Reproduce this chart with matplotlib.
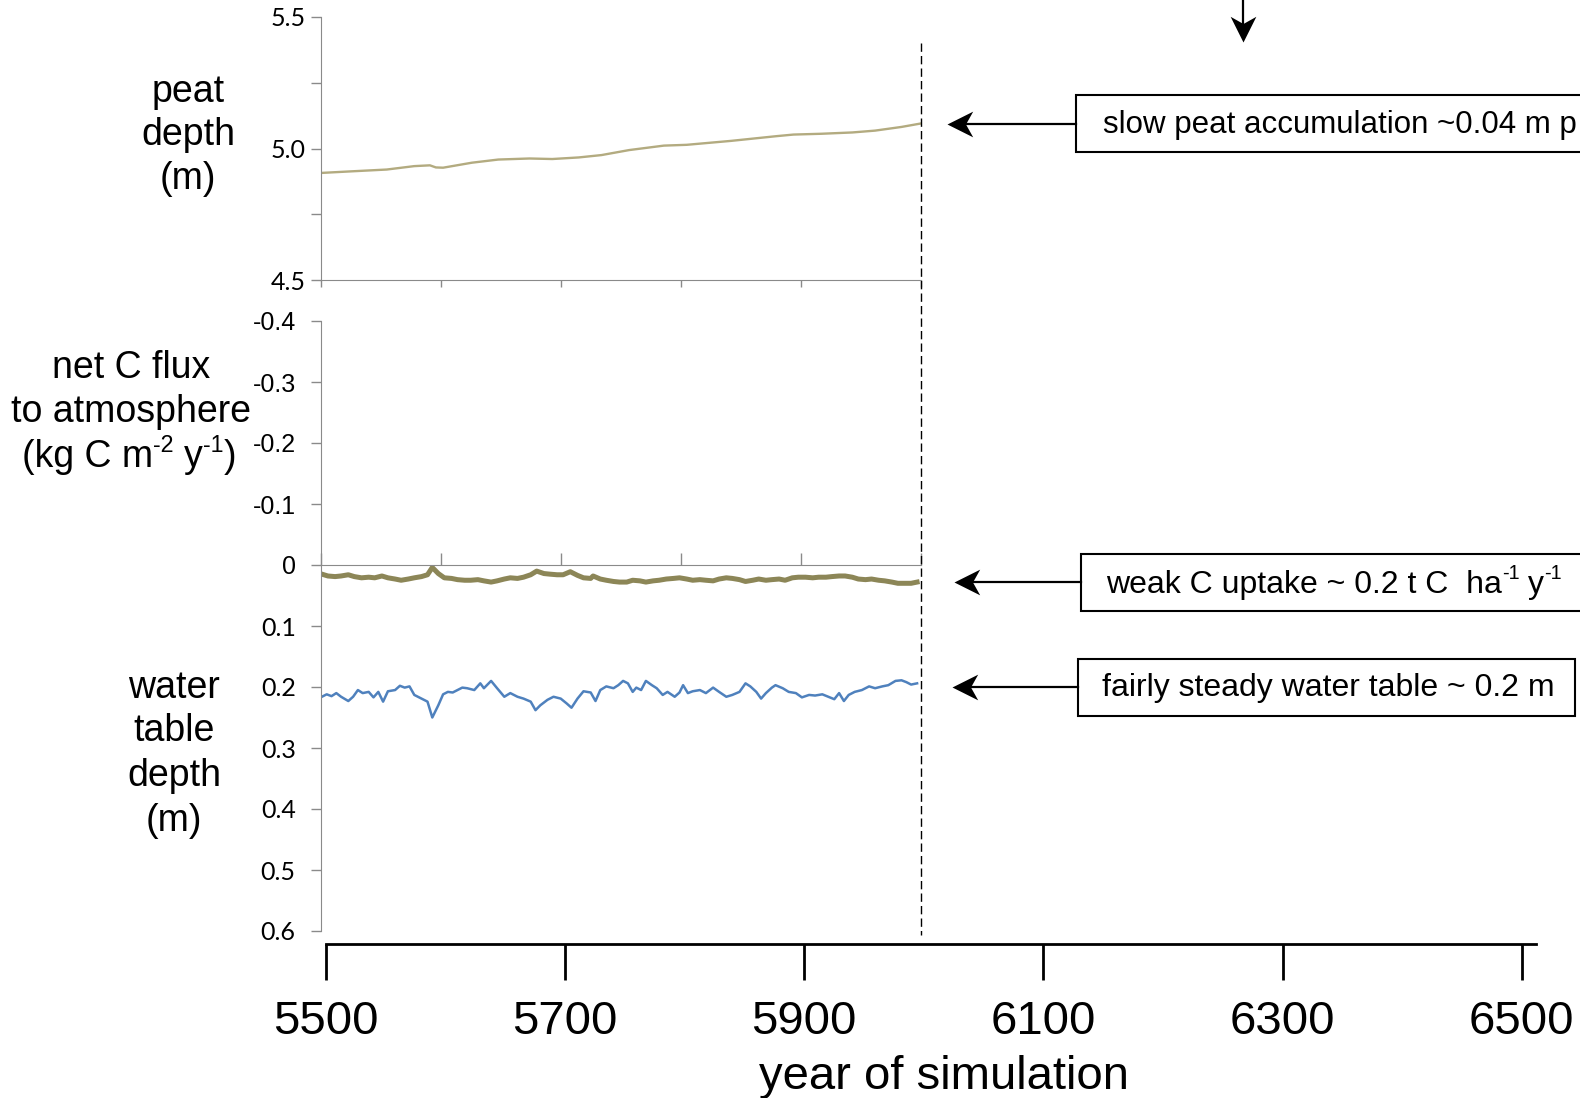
import matplotlib.pyplot as plt
import matplotlib.transforms as mtransforms
from matplotlib.patches import Rectangle
from matplotlib.lines import Line2D
from matplotlib.path import Path

plt.rcParams['font.family'] = ['Liberation Sans', 'DejaVu Sans']

# -----------------------------
# Data
# -----------------------------
peat_year = [5500, 5525, 5555, 5578, 5591, 5596, 5602, 5626, 5648, 5674, 5693,
             5715, 5734, 5757, 5786, 5805, 5842, 5880, 5894, 5917, 5943, 5962,
             5984, 6000]
peat_depth = [4.907, 4.913, 4.920, 4.933, 4.936, 4.928, 4.927, 4.946, 4.958,
              4.962, 4.960, 4.966, 4.975, 4.994, 5.011, 5.014, 5.029, 5.047,
              5.053, 5.056, 5.061, 5.068, 5.082, 5.095]

flux_year = [5501, 5506, 5512, 5517, 5523, 5528, 5534, 5540, 5545, 5551, 5556,
             5562, 5567, 5573, 5578, 5584, 5589, 5593, 5598, 5603, 5609, 5614,
             5620, 5625, 5631, 5636, 5642, 5647, 5653, 5658, 5664, 5669, 5675,
             5680, 5686, 5691, 5697, 5702, 5708, 5714, 5719, 5725, 5727, 5733,
             5738, 5744, 5749, 5755, 5760, 5766, 5771, 5777, 5782, 5788, 5794,
             5799, 5805, 5810, 5816, 5821, 5827, 5832, 5838, 5843, 5849, 5854,
             5860, 5865, 5871, 5876, 5882, 5887, 5893, 5898, 5904, 5910, 5915,
             5921, 5926, 5932, 5937, 5943, 5948, 5954, 5959, 5965, 5970, 5976,
             5981, 5987, 5992, 5997]
# net uptake (kg C m-2 y-1), drawn downward from zero
flux_uptake = [0.015, 0.018, 0.019, 0.018, 0.016, 0.019, 0.021, 0.020, 0.021,
               0.018, 0.021, 0.023, 0.025, 0.023, 0.021, 0.019, 0.016, 0.004,
               0.014, 0.021, 0.022, 0.024, 0.025, 0.025, 0.024, 0.026, 0.028,
               0.026, 0.023, 0.021, 0.022, 0.020, 0.016, 0.010, 0.014, 0.015,
               0.016, 0.016, 0.011, 0.017, 0.021, 0.022, 0.018, 0.023, 0.025,
               0.027, 0.028, 0.028, 0.025, 0.026, 0.028, 0.026, 0.025, 0.023,
               0.022, 0.021, 0.023, 0.025, 0.024, 0.025, 0.026, 0.023, 0.021,
               0.022, 0.024, 0.027, 0.025, 0.023, 0.025, 0.024, 0.023, 0.025,
               0.021, 0.020, 0.020, 0.021, 0.020, 0.020, 0.019, 0.018, 0.018,
               0.020, 0.023, 0.024, 0.023, 0.025, 0.026, 0.028, 0.030, 0.030,
               0.030, 0.028]

wt_year = [5501, 5505, 5509, 5513, 5517, 5523, 5527, 5531, 5535, 5540, 5544,
           5548, 5552, 5556, 5562, 5566, 5570, 5574, 5578, 5584, 5589, 5593,
           5598, 5602, 5606, 5610, 5614, 5618, 5622, 5628, 5633, 5636, 5642,
           5647, 5653, 5658, 5664, 5669, 5675, 5679, 5683, 5689, 5694, 5700,
           5705, 5709, 5714, 5719, 5725, 5729, 5733, 5738, 5744, 5748, 5752,
           5756, 5760, 5763, 5767, 5771, 5776, 5780, 5785, 5789, 5795, 5799,
           5802, 5806, 5810, 5816, 5821, 5827, 5832, 5838, 5843, 5849, 5854,
           5858, 5863, 5867, 5871, 5876, 5879, 5885, 5890, 5896, 5901, 5907,
           5912, 5918, 5923, 5928, 5932, 5936, 5940, 5945, 5951, 5957, 5962,
           5968, 5973, 5979, 5984, 5988, 5992, 5997]
wt_depth = [0.216, 0.212, 0.215, 0.210, 0.216, 0.223, 0.216, 0.205, 0.210,
            0.208, 0.217, 0.208, 0.224, 0.207, 0.205, 0.198, 0.201, 0.199,
            0.213, 0.219, 0.224, 0.250, 0.230, 0.212, 0.208, 0.209, 0.205,
            0.201, 0.202, 0.205, 0.194, 0.202, 0.190, 0.202, 0.216, 0.210,
            0.216, 0.219, 0.224, 0.238, 0.230, 0.221, 0.216, 0.219, 0.227,
            0.234, 0.219, 0.207, 0.209, 0.223, 0.205, 0.199, 0.202, 0.197,
            0.190, 0.194, 0.208, 0.201, 0.205, 0.190, 0.197, 0.202, 0.213,
            0.208, 0.216, 0.209, 0.197, 0.210, 0.207, 0.205, 0.210, 0.201,
            0.208, 0.216, 0.213, 0.208, 0.194, 0.199, 0.208, 0.219, 0.210,
            0.201, 0.197, 0.202, 0.208, 0.210, 0.217, 0.213, 0.214, 0.212,
            0.216, 0.220, 0.210, 0.223, 0.213, 0.208, 0.205, 0.199, 0.202,
            0.199, 0.197, 0.190, 0.189, 0.192, 0.196, 0.194]

wt_level = 0.2
sim_ticks = [5500, 5700, 5900, 6100, 6300, 6500]
peat_ticks = [4.5, 4.75, 5.0, 5.25, 5.5]
low_ticks = [-0.4, -0.3, -0.2, -0.1, 0, 0.1, 0.2, 0.3, 0.4, 0.5, 0.6]
low_labels = ['-0.4', '-0.3', '-0.2', '-0.1', '0', '0.1', '0.2', '0.3', '0.4', '0.5', '0.6']

# -----------------------------
# Figure setup
# -----------------------------
W, H = 1580, 1098
fig = plt.figure(figsize=(W / 100, H / 100), dpi=100)
renderer = fig.canvas.get_renderer()
GREY = '#8a8a8a'
NARROW = ['Lato', 'DejaVu Sans']


def axes_px(x0, y0, x1, y1):
    return fig.add_axes([x0 / W, 1 - y1 / H, (x1 - x0) / W, (y1 - y0) / H])


def fig_px(x, y):
    return x / W, 1 - y / H


def text_width(s, size):
    t = fig.text(0, 0, s, fontsize=size)
    w = t.get_window_extent(renderer).width
    t.remove()
    return w


def rich_text(x, y_mid, parts, size, ha='left'):
    """Plain text with small raised pieces; parts are (string, raised, gap_before)."""
    em = size * 100 / 72
    space = text_width('n n', size) - text_width('nn', size)
    pieces = []
    for s, raised, gap in parts:
        fs = size * 0.62 if raised else size
        pieces.append((s, fs, raised, gap * space, text_width(s, fs)))
    total = sum(p[3] + p[4] for p in pieces)
    cx = x - total / 2 if ha == 'center' else x
    base = y_mid + 0.30 * em
    for s, fs, raised, gap, w in pieces:
        cx += gap
        yy = base - 0.42 * em if raised else base
        fig.text(*fig_px(cx, yy), s, fontsize=fs, ha='left', va='baseline')
        cx += w


# -----------------------------
# Peat depth panel
# -----------------------------
ax1 = axes_px(320.7, 17, 920.7, 280)
ax1.plot(peat_year, peat_depth, color='#b3ab80', lw=1.7)
ax1.set_xlim(5500, 6000)
ax1.set_ylim(4.5, 5.5)
ax1.set_yticks(peat_ticks)
ax1.set_yticklabels(['4.5', '', '5.0', '', '5.5'], family=NARROW, fontsize=18)
ax1.set_xticks(range(5500, 6001, 100))
ax1.set_xticklabels([])
ax1.tick_params(axis='y', direction='out', length=7, width=1, color=GREY, pad=4)
ax1.tick_params(axis='x', direction='out', length=5, width=1, color=GREY)
for s in ['top', 'right']:
    ax1.spines[s].set_visible(False)
for s in ['left', 'bottom']:
    ax1.spines[s].set_color(GREY)
ax1.patch.set_visible(False)

# -----------------------------
# C flux and water table panel
# -----------------------------
ax2 = axes_px(320.7, 321, 920.7, 931)
ax2.plot(flux_year, flux_uptake, color='#8c8657', lw=3.6, solid_joinstyle='round')
ax2.plot(wt_year, wt_depth, color='#4f81bd', lw=1.8)
ax2.set_xlim(5500, 6000)
ax2.set_ylim(0.6, -0.4)
ax2.set_yticks(low_ticks)
ax2.set_yticklabels(low_labels, fontsize=18)
for lab in ax2.get_yticklabels()[5:]:
    lab.set_family(NARROW)
ax2.spines['bottom'].set_position(('data', 0))
ax2.set_xticks(range(5500, 6001, 100))
ax2.set_xticklabels([])
ax2.tick_params(axis='x', direction='in', length=9, width=1, color=GREY)
ax2.tick_params(axis='y', direction='out', length=7, width=1, color=GREY, pad=11)
for s in ['top', 'right']:
    ax2.spines[s].set_visible(False)
for s in ['left', 'bottom']:
    ax2.spines[s].set_color(GREY)
ax2.patch.set_visible(False)

# end of the run so far
trans = mtransforms.blended_transform_factory(ax2.transData, fig.transFigure)
fig.add_artist(Line2D([6000, 6000], [1 - 43 / H, 1 - 935 / H], transform=trans,
                      color='black', lw=1, dashes=(6, 3)))

# -----------------------------
# Simulation year axis
# -----------------------------
ax3 = axes_px(326, 942, 1536, 944)
ax3.set_xlim(5500, 6512)
ax3.set_ylim(0, 1)
ax3.set_xticks(sim_ticks)
ax3.set_xticklabels([str(t) for t in sim_ticks], fontsize=34)
ax3.set_yticks([])
ax3.tick_params(axis='x', direction='out', length=26, width=2, pad=14)
for s in ['top', 'right', 'left']:
    ax3.spines[s].set_visible(False)
ax3.spines['bottom'].set_linewidth(2)
ax3.patch.set_visible(False)
fig.text(*fig_px(944, 1077), 'year of simulation', fontsize=34, ha='center', va='center')

# -----------------------------
# Left hand labels
# -----------------------------
for txt, y in [('peat', 92), ('depth', 135), ('(m)', 179)]:
    fig.text(*fig_px(188, y), txt, fontsize=27, ha='center', va='center')
for txt, y in [('net C flux', 368), ('to atmosphere', 412)]:
    fig.text(*fig_px(131, y), txt, fontsize=27, ha='center', va='center')
rich_text(129, 456, [('(kg C m', False, 0), ('-2', True, 0), ('y', False, 1),
                     ('-1', True, 0), (')', False, 0)], 27, ha='center')
for txt, y in [('water', 688), ('table', 731), ('depth', 776), ('(m)', 821)]:
    fig.text(*fig_px(174, y), txt, fontsize=27, ha='center', va='center')

# -----------------------------
# Annotation boxes and arrows
# -----------------------------
codes = [Path.MOVETO, Path.LINETO, Path.LINETO, Path.LINETO, Path.CLOSEPOLY]
head_left = Path([(0, 0), (1, 0.5), (0.72, 0), (1, -0.5), (0, 0)], codes)
head_down = Path([(0, 0), (-0.5, 1), (0, 0.72), (0.5, 1), (0, 0)], codes)
HEAD_MS = 37


def note(ax, value, box_x0, box_x1, tip_x, text_x):
    y_px = H - ax.transData.transform((6000, value))[1]
    box = Rectangle(fig_px(box_x0, y_px + 28.5), (box_x1 - box_x0) / W, 57 / H,
                    transform=fig.transFigure, facecolor='white', edgecolor='black',
                    lw=1.5, clip_on=False)
    fig.add_artist(box)
    tr = mtransforms.blended_transform_factory(fig.transFigure, ax.transData)
    fig.add_artist(Line2D([box_x0 / W, (tip_x + 8) / W], [value, value], transform=tr,
                          color='black', lw=1.6))
    fig.add_artist(Line2D([tip_x / W], [value], transform=tr, ls='none',
                          marker=head_left, ms=HEAD_MS, color='black', mew=0))
    return text_x, y_px + 1


tx, ty = note(ax1, peat_depth[-1], 1076, 1700, 947, 1103)
fig.text(*fig_px(tx, ty), 'slow peat accumulation ~0.04 m p', fontsize=22.5, ha='left', va='center')

tx, ty = note(ax2, flux_uptake[-1], 1081, 1700, 954, 1106)
rich_text(tx, ty, [('weak C uptake ~ 0.2 t C  ha', False, 0), ('-1', True, 0),
                   ('y', False, 1), ('-1', True, 0)], 23)

tx, ty = note(ax2, wt_level, 1078, 1575, 952, 1102)
fig.text(*fig_px(tx, ty), 'fairly steady water table ~ 0.2 m', fontsize=23, ha='left', va='center')

# downward arrow at the top edge
fig.add_artist(Line2D([1243 / W, 1243 / W], [1.01, 1 - 34 / H], transform=fig.transFigure,
                      color='black', lw=1.6))
fig.add_artist(Line2D([1243 / W], [1 - 42 / H], transform=fig.transFigure, ls='none',
                      marker=head_down, ms=HEAD_MS, color='black', mew=0))

fig.savefig('out.png', dpi=100)
